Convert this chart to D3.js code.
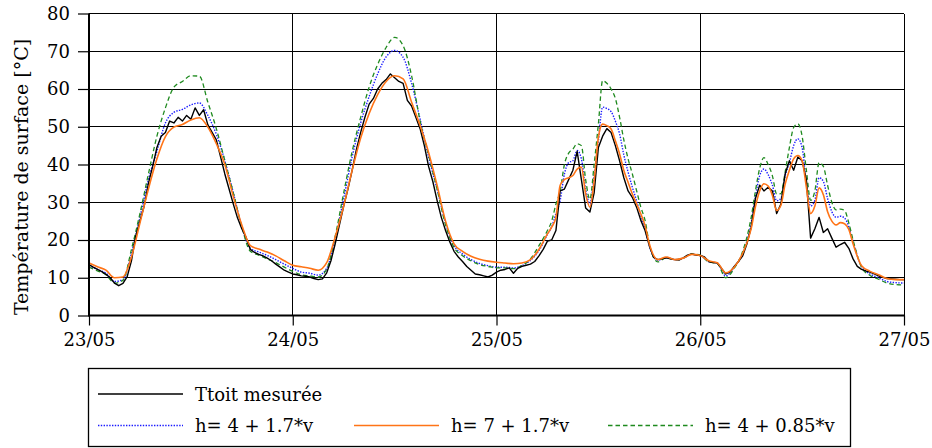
<!DOCTYPE html>
<html>
<head>
<meta charset="utf-8">
<script src="https://cdn.jsdelivr.net/npm/d3@7"></script>
<style>
  html, body { margin: 0; padding: 0; background: #fff; }
  svg text { font-family: "DejaVu Serif", serif; fill: #000; }
</style>
</head>
<body>
<svg id="chart" width="932" height="448"></svg>
<script>
// ---- data ---------------------------------------------------------------
const dayLabels = ["23/05", "24/05", "25/05", "26/05", "27/05"];
const dayHours = [0, 24, 48, 72, 96];
const yTicks = [0, 10, 20, 30, 40, 50, 60, 70, 80];

// measured roof surface temperature, one reading every 30 minutes
const measuredHours = d3.range(0, 96.5, 0.5);
const measured = [
  // 23/05
  13.5, 12.8, 12.2, 11.6, 10.9, 10.0, 8.6, 7.9, 8.5, 10.3, 14.5, 21.0,
  25.0, 29.0, 35.0, 39.5, 44.5, 47.5, 48.5, 51.5, 51.0, 52.5, 51.5, 53.0,
  52.0, 55.0, 53.0, 54.5, 50.5, 48.5, 46.5, 42.0, 37.5, 33.5, 29.5, 25.8,
  23.0, 20.7, 17.5, 16.7, 16.2, 15.8, 15.2, 14.5, 13.6, 12.8, 12.0, 11.5,
  // 24/05
  11.0, 10.8, 10.5, 10.4, 10.2, 9.8, 9.5, 9.7, 11.3, 14.5, 19.0, 24.0,
  29.0, 33.5, 38.5, 44.0, 48.5, 52.5, 56.0, 57.5, 60.0, 61.5, 62.5, 64.0,
  63.0, 62.0, 61.5, 57.0, 55.5, 52.5, 49.5, 45.0, 39.5, 35.5, 30.5, 26.0,
  22.5, 19.5, 17.0, 15.5, 14.3, 13.0, 12.0, 11.0, 10.8, 10.5, 10.2, 10.7,
  // 25/05
  11.5, 12.0, 12.2, 12.6, 11.2, 12.5, 13.0, 13.3, 13.6, 14.3, 15.8, 17.5,
  19.7, 20.0, 22.5, 33.0, 33.5, 36.0, 38.5, 43.5, 36.0, 28.5, 27.4, 32.5,
  44.5, 47.5, 49.5, 48.5, 45.0, 41.0, 36.5, 33.0, 31.3, 28.7, 25.2, 22.5,
  18.5, 15.4, 14.8, 15.0, 15.3, 15.0, 14.8, 14.7, 15.3, 16.0, 16.3, 16.0,
  // 26/05
  15.9, 15.5, 14.3, 14.0, 13.9, 12.5, 11.0, 11.5, 13.0, 14.3, 15.8, 19.0,
  23.4, 31.0, 34.5, 33.0, 34.0, 33.0, 27.0, 29.5, 37.5, 41.0, 38.5, 42.0,
  41.0, 36.0, 20.5, 23.0, 26.0, 22.0, 23.0, 20.5, 18.1, 18.8, 19.4, 17.8,
  15.0, 13.0, 12.2, 11.8, 11.5, 11.0, 10.5, 10.1, 9.8, 9.7, 9.6, 9.5,
  // 27/05 00:00
  9.5
];

// simulated temperatures: hourly, half-hourly through the afternoons of 25 and 26/05
const hours = [
  ...d3.range(0, 54, 1), ...d3.range(54, 66, 0.5), ...d3.range(66, 78, 1),
  ...d3.range(78, 90, 0.5), ...d3.range(90, 97, 1)
];

// h = 4 + 1.7*v
const simA = [
  13.2, 12.2, 11.2, 9.0, 9.5, 16.5, 26.0, 36.0, 43.5, 51.0, 53.8, 54.6,
  55.8, 56.3, 53.0, 48.0, 41.0, 32.5, 23.5, 17.8, 16.8, 15.9, 14.8, 13.6,
  12.5, 11.5, 11.2, 10.7, 12.5, 20.3, 31.0, 42.0, 51.0, 58.0, 64.0, 68.5,
  70.2, 68.4, 61.5, 52.0, 42.0, 33.5, 24.5, 18.5, 16.3, 14.8, 13.8, 13.2,
  12.8, 12.8, 12.6, 13.2, 14.6, 17.2,
  21.5, 23.5, 27.0, 30.5, 37.5, 40.5, 41.0, 43.7, 41.5, 33.5, 29.6, 37.0,
  46.3, 55.2, 54.8, 54.0, 51.5, 48.1, 42.5, 38.0, 34.0, 30.4, 26.5, 23.0,
  18.5, 14.6, 15.4, 14.8, 15.2, 16.2, 15.9, 14.3, 13.9, 10.5, 12.8, 16.5,
  24.5, 31.5, 37.0, 38.8, 37.3, 34.5, 30.4, 31.0, 37.0, 40.5, 45.0, 46.8,
  44.5, 35.0, 29.0, 30.5, 36.5, 35.5, 31.0, 27.5, 26.0, 26.3, 25.8, 23.5,
  19.5, 13.0, 11.0, 10.0, 9.0, 8.7, 8.6
];

// h = 7 + 1.7*v
const simB = [
  13.9, 12.9, 12.0, 10.0, 10.2, 15.5, 24.5, 33.5, 41.5, 47.4, 49.9, 50.6,
  51.8, 52.4, 49.9, 45.5, 40.0, 31.5, 24.0, 18.5, 17.6, 16.8, 15.8, 14.5,
  13.3, 12.9, 12.5, 12.0, 14.0, 20.8, 29.0, 38.5, 47.0, 53.5, 58.5, 62.0,
  63.5, 62.7, 56.5, 50.3, 43.2, 34.5, 25.0, 19.0, 17.0, 15.7, 14.9, 14.4,
  14.1, 13.9, 13.7, 13.9, 14.8, 17.5,
  21.6, 23.4, 26.0, 34.5, 36.0, 36.5, 37.1, 38.8, 39.3, 32.2, 28.7, 35.7,
  47.2, 50.7, 50.3, 49.4, 46.3, 42.8, 38.4, 35.3, 32.2, 29.6, 26.9, 23.8,
  19.0, 14.8, 15.5, 14.8, 15.2, 16.2, 15.9, 14.5, 14.0, 11.3, 12.8, 16.5,
  23.0, 28.8, 33.0, 34.9, 34.3, 31.8, 27.8, 29.2, 34.8, 38.5, 41.5, 42.4,
  41.0, 34.0, 27.0, 29.0, 33.8, 32.0, 27.5, 25.0, 24.0, 24.6, 24.3, 22.8,
  19.0, 13.2, 11.7, 10.8, 9.8, 9.5, 9.5
];

// h = 4 + 0.85*v
const simC = [
  12.8, 11.8, 10.8, 8.6, 9.3, 17.5, 27.0, 37.5, 47.5, 55.0, 60.5, 62.0,
  63.5, 63.4, 56.5, 49.5, 41.0, 32.5, 23.5, 17.0, 16.0, 15.0, 14.0, 12.8,
  11.7, 10.8, 10.5, 10.2, 12.3, 21.0, 32.5, 43.5, 52.5, 60.5, 66.5, 71.0,
  73.7, 71.5, 63.5, 51.5, 42.5, 33.5, 24.0, 18.0, 15.8, 14.5, 13.5, 13.0,
  12.6, 12.6, 12.4, 13.2, 15.0, 18.5,
  22.5, 25.0, 29.5, 33.0, 40.0, 43.0, 44.1, 45.5, 45.0, 36.0, 30.8, 40.0,
  50.7, 62.2, 61.5, 60.0, 57.5, 52.5, 46.5, 41.5, 37.5, 33.1, 28.7, 25.2,
  19.0, 14.2, 15.3, 14.8, 15.2, 16.3, 16.0, 14.2, 13.8, 10.0, 12.5, 17.0,
  26.0, 33.0, 39.0, 41.8, 40.0, 37.0, 32.2, 32.3, 38.0, 44.5, 49.8, 50.8,
  47.5, 38.5, 30.5, 33.0, 40.5, 39.5, 34.5, 30.0, 28.0, 28.2, 27.8, 24.5,
  20.0, 12.8, 10.6, 9.6, 8.6, 8.2, 8.1
];

const seriesNames = ["Ttoit mesurée", "h= 4 + 1.7*v", "h= 7 + 1.7*v", "h= 4 + 0.85*v"];

// ---- chart --------------------------------------------------------------
const svg = d3.select("#chart");
const FONT = 18;

const x = d3.scaleLinear().domain([0, 96]).range([89, 904]);
const y = d3.scaleLinear().domain([0, 80]).range([315.5, 13.5]);

const styles = [
  { color: "#000000", width: 1.4, dash: null, curve: d3.curveLinear },
  { color: "#1a1aff", width: 1.4, dash: "1.4,1.4", curve: d3.curveMonotoneX },
  { color: "#ff7417", width: 1.6, dash: null, curve: d3.curveMonotoneX },
  { color: "#1f8a1f", width: 1.3, dash: "4.5,3", curve: d3.curveMonotoneX }
];

// grid
const grid = svg.append("g").attr("shape-rendering", "crispEdges");
grid.selectAll("line.h").data(yTicks).join("line")
  .attr("x1", x(0)).attr("x2", x(96))
  .attr("y1", d => y(d)).attr("y2", d => y(d))
  .attr("stroke", "#000").attr("stroke-width", 1);
grid.selectAll("line.v").data(dayHours).join("line")
  .attr("x1", d => x(d)).attr("x2", d => x(d))
  .attr("y1", y(0)).attr("y2", y(80))
  .attr("stroke", "#000").attr("stroke-width", 1);

// axes
const yAxis = d3.axisLeft(y).tickValues(yTicks).tickSize(11).tickPadding(8);
const gy = svg.append("g").attr("transform", `translate(${x(0)},0)`).call(yAxis);
gy.select(".domain").remove();
gy.selectAll(".tick line").attr("stroke", "#000").attr("stroke-width", 1.2);
gy.selectAll(".tick text").attr("font-size", FONT).attr("font-family", "DejaVu Serif");

const xAxis = d3.axisBottom(x).tickValues(dayHours)
  .tickFormat((d, i) => dayLabels[i]).tickSize(10).tickPadding(8);
const gx = svg.append("g").attr("transform", `translate(0,${y(0)})`).call(xAxis);
gx.select(".domain").remove();
gx.selectAll(".tick line").attr("stroke", "#000").attr("stroke-width", 1.2);
gx.selectAll(".tick text").attr("font-size", FONT).attr("font-family", "DejaVu Serif");

// series
const simSets = [simA, simB, simC];
const drawOrder = [1, 3, 0, 2];
drawOrder.forEach(k => {
  const st = styles[k];
  let pts;
  if (k === 0) pts = measuredHours.map((h, i) => [h, measured[i]]);
  else pts = hours.map((h, i) => [h, simSets[k - 1][i]]);
  const line = d3.line().x(d => x(d[0])).y(d => y(d[1])).curve(st.curve);
  svg.append("path").datum(pts)
    .attr("d", line)
    .attr("fill", "none")
    .attr("stroke", st.color)
    .attr("stroke-width", st.width)
    .attr("stroke-dasharray", st.dash)
    .attr("stroke-linejoin", "round");
});

// frame: heavier left and bottom axis lines
svg.append("line").attr("x1", x(0)).attr("x2", x(0)).attr("y1", y(0) + 1).attr("y2", y(80))
  .attr("stroke", "#000").attr("stroke-width", 2);
svg.append("line").attr("x1", x(0)).attr("x2", x(96)).attr("y1", y(0)).attr("y2", y(0))
  .attr("stroke", "#000").attr("stroke-width", 2);

// y axis title
svg.append("text")
  .attr("transform", "translate(28,177) rotate(-90)")
  .attr("text-anchor", "middle")
  .attr("font-size", 19)
  .text("Température de surface [°C]");

// legend
const legend = svg.append("g");
legend.append("rect")
  .attr("x", 88.5).attr("y", 368.5).attr("width", 762).attr("height", 78)
  .attr("fill", "#fff").attr("stroke", "#000").attr("stroke-width", 1.3);

const legendPos = [
  { x: 98, y: 394 },
  { x: 98, y: 425.5 },
  { x: 354, y: 425.5 },
  { x: 608, y: 425.5 }
];
seriesNames.forEach((name, k) => {
  const p = legendPos[k], st = styles[k];
  legend.append("line")
    .attr("x1", p.x).attr("x2", p.x + 85).attr("y1", p.y).attr("y2", p.y)
    .attr("stroke", st.color).attr("stroke-width", st.width)
    .attr("stroke-dasharray", st.dash);
  legend.append("text")
    .attr("x", p.x + 97).attr("y", p.y + 6.5)
    .attr("font-size", FONT)
    .text(name);
});
</script>
</body>
</html>
